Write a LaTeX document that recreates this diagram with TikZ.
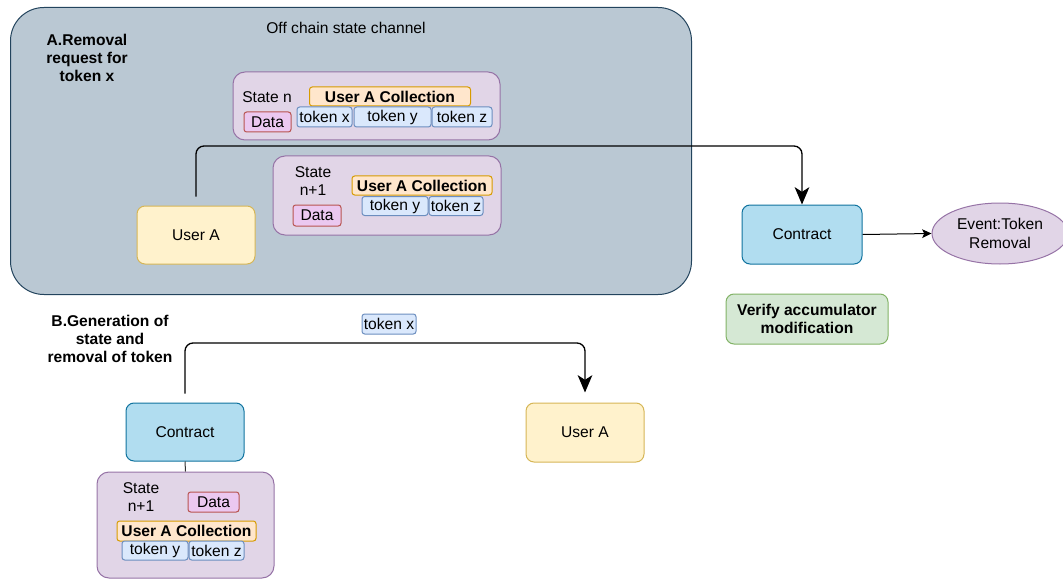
\documentclass[tikz,border=0pt]{standalone}
\usepackage{fontspec}
\setmainfont{Liberation Sans}
\usetikzlibrary{arrows.meta,shapes.geometric}

\definecolor{chanfill}{HTML}{BAC8D3}
\definecolor{chanline}{HTML}{23445D}
\definecolor{statefill}{HTML}{E1D5E7}
\definecolor{stateline}{HTML}{9673A6}
\definecolor{collfill}{HTML}{FFE6CC}
\definecolor{collline}{HTML}{D79B00}
\definecolor{datafill}{HTML}{EBC8F0}
\definecolor{dataline}{HTML}{B85450}
\definecolor{tokfill}{HTML}{DAE8FC}
\definecolor{tokline}{HTML}{6C8EBF}
\definecolor{userfill}{HTML}{FFF2CC}
\definecolor{userline}{HTML}{D6B656}
\definecolor{ctrfill}{HTML}{B1DDF0}
\definecolor{ctrline}{HTML}{10739E}
\definecolor{verfill}{HTML}{D5E8D4}
\definecolor{verline}{HTML}{82B366}

\begin{document}
\begin{tikzpicture}[x=0.75pt, y=-0.75pt,
  every node/.style={font=\fontsize{11.7}{13.8}\selectfont, inner sep=0pt},
  wh/.style 2 args={minimum width={#1*0.75pt}, minimum height={#2*0.75pt}},
  statebox/.style={draw=stateline, fill=statefill, line width=0.75pt, rounded corners=9pt},
  collbox/.style={draw=collline, fill=collfill, line width=0.75pt, rounded corners=2pt, font=\fontsize{11.7}{13.8}\selectfont\bfseries},
  databox/.style={draw=dataline, fill=datafill, line width=0.75pt, rounded corners=2pt},
  tokbox/.style={draw=tokline, fill=tokfill, line width=0.75pt, rounded corners=2pt},
  userbox/.style={draw=userline, fill=userfill, line width=0.75pt, rounded corners=6pt},
  ctrbox/.style={draw=ctrline, fill=ctrfill, line width=0.75pt, rounded corners=6pt},
  conn/.style={line width=1pt, rounded corners=6pt, -{Stealth[length=13pt,width=11pt,inset=3.5pt]}},
  label/.style={align=center, font=\fontsize{11.7}{13.8}\selectfont\bfseries}]

\useasboundingbox (0,0) rectangle (1063,581);

\node[draw=chanline, fill=chanfill, line width=0.75pt, rounded corners=25pt, wh={681}{287}] (chan) at (351,151) {};
\node (chantitle) at (346,28) {Off chain state channel};
\node[label] (labA) at (87,58) {A.Removal\\request for\\token x};

\node[statebox, wh={267}{68}] (stN) at (366.5,106) {};
\node (stNtxt) at (267,97) {State n};
\node[collbox, wh={161}{19}] (collN) at (390,96.5) {User A Collection};
\node[databox, wh={47}{20}] (dataN) at (267.5,122) {Data};
\node[tokbox, wh={55}{20}] (tokxN) at (324.5,117) {token x};
\node[tokbox, wh={77}{20}] (tokyN) at (392.5,117) {token y};
\node[tokbox, wh={60}{20}] (tokzN) at (462,117) {token z};

\node[statebox, wh={228}{79}] (stN1) at (387,195.5) {};
\node[align=center] (stN1txt) at (313,181) {State\\n+1};
\node[databox, wh={48}{21}] (dataN1) at (317,215.5) {Data};
\node[collbox, wh={140}{19}] (collN1) at (422,185.5) {User A Collection};
\node[tokbox, wh={66}{19}] (tokyN1) at (395,206) {token y};
\node[tokbox, wh={54}{19}] (tokzN1) at (456,206) {token z};

\node[userbox, wh={118}{58}] (userA) at (196,235) {User A};
\node[ctrbox, wh={120}{59}] (ctrA) at (802,234.5) {Contract};
\node[ellipse, draw=stateline, fill=statefill, line width=0.75pt, wh={136}{61}, align=center] (event) at (1000,233.5) {Event:Token\\Removal};
\node[draw=verline, fill=verfill, line width=0.75pt, rounded corners=6pt, wh={162}{50}, label] (verify) at (807,319) {Verify accumulator\\modification};

\coordinate (bendA) at (0,146);
\draw[conn, shorten <=6.75pt] (userA.north) -- (userA.north |- bendA) -| (ctrA.north);
\draw[line width=0.75pt, -{Stealth[length=7pt,width=6.5pt,inset=1.5pt]}] (ctrA.east) -- (event.west);

\node[label] (labB) at (110,339) {B.Generation of\\state and\\removal of token};
\node[tokbox, wh={54}{20}] (tokxB) at (389,324) {token x};

\node[ctrbox, wh={118}{58}] (ctrB) at (185,432) {Contract};
\node[userbox, wh={118}{59}] (userB) at (585,432.5) {User A};

\coordinate (bendB) at (0,343);
\draw[conn, shorten <=6.75pt, shorten >=7.5pt] (ctrB.north) -- (ctrB.north |- bendB) -| (userB.north);

\node[statebox, wh={177}{106}] (stB) at (185.5,525) {};
\node[align=center] (stBtxt) at (141,497) {State\\n+1};
\node[databox, wh={51}{20}] (dataB) at (213.5,502) {Data};
\node[collbox, wh={139}{20}] (collB) at (186.5,531) {User A Collection};
\node[tokbox, wh={66}{19}] (tokyB) at (155,550.5) {token y};
\node[tokbox, wh={55}{19}] (tokzB) at (216.5,550.5) {token z};

\draw[line width=0.75pt, draw=black!80] (ctrB.south) -- (stB.north);
\end{tikzpicture}
\end{document}
